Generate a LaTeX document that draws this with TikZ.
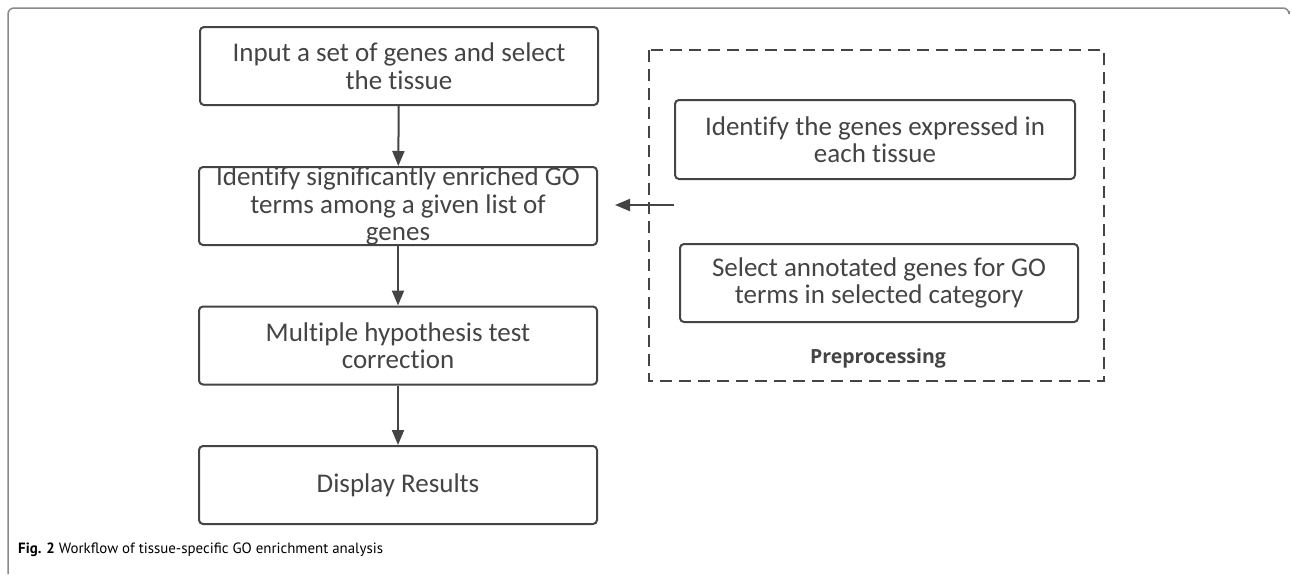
\documentclass[tikz,border=0pt]{standalone}
\usepackage{fontspec}
\setmainfont{Carlito}[Ligatures=NoCommon]
\newfontfamily\capfont{PT Sans}
\newfontfamily\tagfont{Open Sans}
\usetikzlibrary{arrows.meta}
\definecolor{ink}{HTML}{444444}
\definecolor{framegray}{HTML}{8A8A8A}
\begin{document}
\begin{tikzpicture}[x=1pt,y=-1pt,
  stepbox/.style={draw=ink, line width=2pt, rounded corners=4pt,
    minimum width=398pt, minimum height=78pt, inner sep=0pt},
  boxtext/.style={text=ink, align=center, inner sep=0pt,
    font=\fontsize{27}{27.5}\selectfont},
  flow/.style={draw=ink, line width=2pt, -{Triangle[length=15pt,width=12pt]}},
  groupbox/.style={draw=ink, line width=2pt, dash pattern=on 12pt off 7pt},
]
\useasboundingbox (0,0) rectangle (1292,574);
% figure frame
\draw[framegray, line width=1.5pt, rounded corners=6pt]
  (8,574) -- (8,8) -- (1289,8) -- (1289,11);

% main workflow
\node[stepbox] (b1) at (399,66) {};
\node[boxtext] at (b1) {Input a set of genes and select\\the tissue};
\node[stepbox] (b2) at (398,206) {};
\node[boxtext] at (b2) {Identify significantly enriched GO\\terms among a given list of\\genes};
\node[stepbox] (b3) at (398,345.5) {};
\node[boxtext] at (b3) {Multiple hypothesis test\\correction};
\node[stepbox] (b4) at (398,485) {};
\node[boxtext] at (b4) {Display Results};

\draw[flow] (b1) -- (b2);
\draw[flow] (b2) -- (b3);
\draw[flow] (b3) -- (b4);

% preprocessing group
\draw[groupbox] (649,50) rectangle (1104,381);
\node[stepbox, minimum width=400pt, minimum height=79pt] (pa) at (875,139.5) {};
\node[boxtext] at (pa) {Identify the genes expressed in\\each tissue};
\node[stepbox] (pb) at (879,283) {};
\node[boxtext] at (pb) {Select annotated genes for GO\\terms in selected category};
\node[text=ink, anchor=base, inner sep=0pt, font=\tagfont\fontsize{19.5}{22}\selectfont\bfseries]
  (pre) at (878,363) {Preprocessing};

\coordinate (feed) at (pa.west |- 0,205);
\coordinate (feedtip) at (615,205);
\draw[flow] (feed) -- (feedtip);

% caption
\node[anchor=base west, inner sep=0pt, font=\capfont\fontsize{14.9}{17}\selectfont]
  (cap) at (18,553) {\textbf{Fig. 2} Workflow of tissue-specific GO enrichment analysis};
\end{tikzpicture}
\end{document}
